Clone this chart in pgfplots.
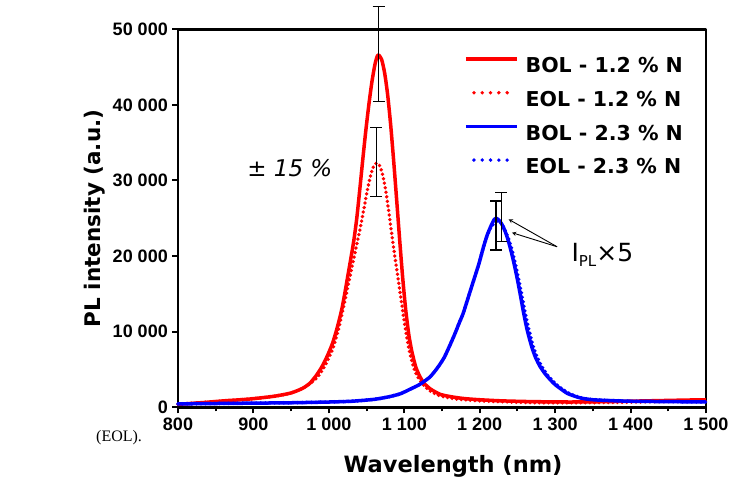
\documentclass[border=0pt]{standalone}
\usepackage{pgfplots}
\pgfplotsset{compat=1.18}
\usepackage{fontspec}
\setmainfont{DejaVu Sans}
\newfontfamily\ticksfont{Liberation Sans}
\newfontfamily\seriffont{Liberation Serif}

\pgfplotsset{
  dotlegend/.style={legend image code/.code={\draw[##1, dash pattern=on 0pt off 8.3pt] (8pt,7pt) -- (42pt,7pt);}},
}

\pgfplotstableread{
x y
800 400
830 600
860 850
890 1050
910 1250
930 1500
950 1900
965 2500
975 3200
984 4300
991 5400
998 6800
1005 8500
1011 10500
1017 12900
1021 15000
1025 17300
1029 19600
1033 22000
1037 25000
1041 28800
1045 32800
1049 36600
1053 40000
1057 43000
1061 45300
1064 46400
1066 46600
1070 46000
1074 44200
1078 41300
1082 37300
1086 32500
1090 27300
1094 22000
1098 17000
1102 12800
1106 9600
1110 7400
1115 5400
1120 4200
1126 3200
1135 2400
1148 1700
1165 1350
1180 1150
1200 1000
1230 850
1270 750
1320 700
1370 750
1420 850
1470 950
1500 1000
}\redBOL

\pgfplotstableread{
x y
800 400
850 750
900 1150
930 1500
950 1900
965 2500
975 3100
985 4000
995 5500
1005 7700
1013 10400
1020 13500
1028 17300
1035 20600
1041 23400
1046 26000
1051 28700
1055 30500
1059 31800
1063 32300
1067 32000
1071 30900
1075 28900
1079 26200
1083 23200
1087 20300
1092 16900
1097 13400
1101 10700
1106 7800
1112 5400
1118 4000
1126 2900
1135 2100
1148 1500
1165 1150
1180 1000
1200 850
1240 700
1280 600
1330 600
1380 650
1430 750
1470 800
1500 850
}\redEOL

\pgfplotstableread{
x y
800 450
850 500
900 550
950 600
1000 700
1030 800
1060 1050
1080 1400
1095 1800
1110 2500
1120 3000
1126 3400
1134 4000
1140 4700
1146 5500
1153 6600
1160 8100
1167 9700
1173 11200
1178 12400
1185 14600
1192 16800
1199 19000
1205 21200
1210 22800
1215 24000
1219 24800
1222 25000
1226 24700
1230 24100
1234 23200
1238 22000
1242 20500
1246 18800
1250 16900
1254 14800
1258 12600
1263 10200
1269 8000
1274 6600
1280 5400
1287 4400
1294 3600
1300 3000
1308 2400
1316 1850
1325 1500
1335 1200
1350 1000
1370 900
1400 800
1450 750
1500 700
}\blueBOL

\pgfplotstableread{
x y
800 450
850 500
900 550
950 600
1000 700
1030 800
1060 1050
1080 1400
1095 1800
1110 2500
1120 3000
1126 3400
1134 4000
1140 4700
1146 5500
1153 6600
1160 8100
1167 9700
1173 11200
1178 12400
1185 14600
1192 16800
1199 19000
1205 21200
1210 22700
1215 23800
1220 24400
1224 24600
1228 24400
1232 23800
1236 22900
1240 21800
1244 20400
1248 18700
1252 16800
1256 14800
1260 12700
1265 10400
1271 8100
1276 6700
1282 5500
1289 4400
1296 3600
1302 3000
1310 2400
1318 1900
1327 1500
1337 1200
1352 1000
1372 900
1400 800
1450 750
1500 700
}\blueEOL

\begin{document}
\begin{tikzpicture}
\path[use as bounding box] (0pt,0pt) rectangle (729pt,490pt);
\node[anchor=base west, font=\seriffont\fontsize{16}{16}\selectfont, inner sep=0pt] at (96pt,48pt) {(EOL).};
\begin{axis}[
  at={(178pt,82.7pt)}, anchor=south west,
  scale only axis, width=528pt, height=378pt,
  xmin=800, xmax=1500, ymin=0, ymax=50000,
  xtick={800,900,1000,1100,1200,1300,1400,1500},
  xticklabels={800,900,1 000,1 100,1 200,1 300,1 400,1 500},
  minor xtick={850,950,1050,1150,1250,1350,1450},
  ytick={0,10000,20000,30000,40000,50000},
  yticklabels={0,10 000,20 000,30 000,40 000,50 000},
  scaled y ticks=false,
  tick pos=left, tick align=outside,
  major tick length=6pt, minor tick length=4pt,
  every tick/.style={black, line width=2pt},
  axis line style={line width=2.5pt},
  ticklabel style={font=\ticksfont\bfseries\fontsize{18}{18}\selectfont},
  xticklabel style={inner sep=0pt, yshift=-4pt},
  yticklabel style={inner sep=0pt, xshift=-4pt},
  clip=false,
  xlabel={Wavelength (nm)},
  ylabel={PL intensity (a.u.)},
  label style={font=\bfseries\fontsize{22.5}{22.5}\selectfont},
  xlabel style={at={(axis description cs:0.521,-0.172)}, anchor=base},
  ylabel style={at={(axis description cs:-0.146,0.5)}, anchor=base, font=\bfseries\fontsize{21.5}{21.5}\selectfont},
  legend style={draw=none, fill=none, at={(axis description cs:0.536,0.932)}, anchor=north west,
    font=\bfseries\fontsize{20.5}{20.5}\selectfont, row sep=16.5pt, column sep=7pt,
    nodes={inner sep=0pt}},
  legend cell align=left,
  legend image code/.code={\draw[#1] (0pt,7pt) -- (51pt,7pt);},
  line join=round,
]
\addplot[red, line width=3.5pt, smooth, tension=0.4] table {\redBOL};
\addlegendentry{BOL - 1.2 \% N}
\addplot[red, line width=3.8pt, line cap=round, dash pattern=on 0pt off 4.6pt, smooth, tension=0.4, dotlegend] table {\redEOL};
\addlegendentry{EOL - 1.2 \% N}
\addplot[blue, line width=3.5pt, smooth, tension=0.4] table {\blueBOL};
\addlegendentry{BOL - 2.3 \% N}
\addplot[blue, line width=3.8pt, line cap=round, dash pattern=on 0pt off 4.6pt, smooth, tension=0.4, dotlegend] table {\blueEOL};
\addlegendentry{EOL - 2.3 \% N}

\addplot[draw=none, forget plot,
  error bars/.cd, y dir=both, y explicit,
  error mark=-,
  error bar style={draw=black, solid, line width=1.2pt},
  error mark options={draw=black, solid, line width=1.2pt, mark size=6pt, rotate=90}]
  coordinates {(1066,46700) +- (0,6300) (1062.7,32450) +- (0,4550) (1221.6,24050) +- (0,3250) (1228.6,25150) +- (0,3250)};

\draw[-stealth, black, line width=0.9pt] (axis cs:1302.5,21240) -- (axis cs:1238.3,24870);
\draw[-stealth, black, line width=0.9pt] (axis cs:1302.5,21240) -- (axis cs:1242.7,23100);
\node[anchor=base west, inner sep=0pt, font=\fontsize{25}{25}\selectfont] at (axis cs:1321.5,19350) {I\raisebox{-5pt}{\fontsize{15}{15}\selectfont PL}×5};
\node[anchor=base west, inner sep=0pt, font=\fontsize{23}{23}\selectfont] at (axis cs:891.6,30500) {±\ \itshape 15 \%};
\end{axis}
\end{tikzpicture}
\end{document}
